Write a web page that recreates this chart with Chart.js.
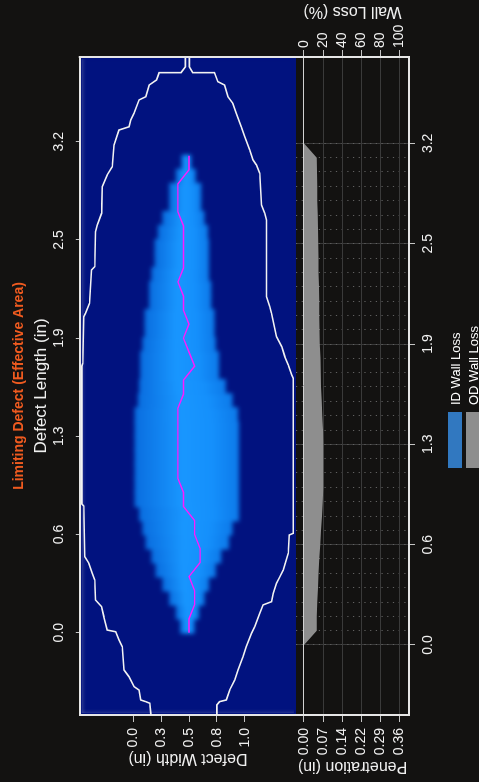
<!DOCTYPE html>
<html>
<head>
<meta charset="utf-8">
<script src="https://cdn.jsdelivr.net/npm/chart.js@4.4.0/dist/chart.umd.min.js"></script>
<style>
  html, body { margin: 0; padding: 0; background: #131211; overflow: hidden; }
  body { width: 479px; height: 782px; position: relative; }
  /* the whole figure is laid out landscape and turned a quarter turn */
  #rot { position: absolute; left: 0; top: 0; width: 782px; height: 479px;
         transform-origin: 0 0; transform: translate(0, 782px) rotate(-90deg); }
  #heat { position: absolute; left: 0; top: 0; }
  #pen { position: absolute; left: 0; top: 296px; }
  #legend { position: absolute; left: 314px; top: 448px; color: #fff;
            font: 13px "Liberation Sans", Arial, sans-serif; }
  .item { display: flex; align-items: center; height: 14px; margin-bottom: 4px; }
  .box { width: 56px; height: 14px; margin-right: 7px; }
</style>
</head>
<body>
<div id="rot">
  <canvas id="heat" width="782" height="296"></canvas>
  <canvas id="pen" width="782" height="183"></canvas>
  <div id="legend"></div>
</div>
<script>
// sample positions along the defect (in)
const sampleLen = [0.000, 0.090, 0.181, 0.271, 0.362, 0.452, 0.543, 0.633, 0.724, 0.814, 0.905, 0.995,
  1.086, 1.176, 1.267, 1.357, 1.448, 1.538, 1.629, 1.719, 1.810, 1.900, 1.990, 2.081,
  2.171, 2.262, 2.352, 2.443, 2.533, 2.624, 2.714, 2.805, 2.895, 2.986, 3.076, 3.167];
// heatmap cell centres along the defect (in)
const cellLen = [0.045, 0.136, 0.226, 0.317, 0.407, 0.498, 0.588, 0.679, 0.769, 0.860, 0.950, 1.041,
  1.131, 1.222, 1.312, 1.403, 1.493, 1.584, 1.674, 1.765, 1.855, 1.945, 2.036, 2.126,
  2.217, 2.307, 2.398, 2.488, 2.579, 2.669, 2.760, 2.850, 2.941, 3.031];

// tick values
const lenTicks = [0, 0.633, 1.267, 1.9, 2.533, 3.167];
const widthTicks = [0, 0.25, 0.5, 0.75, 1.0];
const penTicks = [0, 0.072, 0.144, 0.216, 0.288, 0.36];
const lossTicks = [0, 20, 40, 60, 80, 100];

// corroded area across the width (in), per cell
const blobLo = [0.42, 0.38, 0.32, 0.26, 0.20, 0.16, 0.11, 0.08, 0.05, 0.01, 0.01, 0.01, 0.01, 0.01, 0.01, 0.01, 0.04,
  0.05, 0.06, 0.06, 0.08, 0.10, 0.10, 0.14, 0.14, 0.16, 0.19, 0.19, 0.22, 0.26, 0.32, 0.32, 0.38, 0.43];
const blobHi = [0.55, 0.59, 0.64, 0.68, 0.74, 0.79, 0.86, 0.89, 0.95, 0.95, 0.95, 0.95, 0.95, 0.95, 0.95, 0.94, 0.89,
  0.83, 0.77, 0.77, 0.74, 0.73, 0.73, 0.70, 0.70, 0.68, 0.68, 0.68, 0.67, 0.64, 0.61, 0.61, 0.56, 0.52];

// deepest point path across the width (in)
const deepPath = [0.50, 0.50, 0.55, 0.55, 0.50, 0.60, 0.60, 0.55, 0.55, 0.45, 0.45, 0.40, 0.40, 0.40, 0.40, 0.40, 0.40,
  0.45, 0.45, 0.55, 0.50, 0.45, 0.50, 0.45, 0.45, 0.40, 0.45, 0.45, 0.45, 0.45, 0.40, 0.40, 0.40, 0.50, 0.50, null];

// effective area outline
const outlineLen = [-0.62, -0.526, -0.455, -0.445, -0.434, -0.370, -0.348, -0.284, -0.241, -0.090, -0.047, 0.006,
  0.017, 0.103, 0.168, 0.211, 0.340, 0.383, 0.448, 0.490, 0.817, 0.83, 1.72, 1.737, 2.038, 2.060, 2.124, 2.339,
  2.361, 2.586, 2.629, 2.705, 2.877, 2.952, 3.005, 3.145, 3.242, 3.263, 3.307, 3.350, 3.436, 3.457, 3.532, 3.565,
  3.612, 3.612, 3.650, 3.80, 3.80, 3.650, 3.612, 3.612, 3.554, 3.532, 3.457, 3.414, 3.350, 3.263, 3.199, 3.113,
  3.049, 3.016, 2.963, 2.758, 2.705, 2.662, 2.167, 2.103, 2.060, 1.909, 1.845, 1.780, 1.727, 1.662, 1.641, 0.641,
  0.630, 0.512, 0.404, 0.361, 0.319, 0.254, 0.200, 0.179, 0.125, 0.039, -0.004, -0.090, -0.155, -0.241, -0.305,
  -0.370, -0.434, -0.445, -0.466, -0.526, -0.62];
const outlineWid = [0.157, 0.157, 0.148, 0.112, 0.067, 0.051, 0.006, -0.039, -0.084, -0.099, -0.129, -0.159,
  -0.235, -0.265, -0.285, -0.340, -0.346, -0.370, -0.400, -0.436, -0.445, -0.462, -0.462, -0.454, -0.445, -0.430,
  -0.394, -0.376, -0.346, -0.340, -0.325, -0.285, -0.280, -0.235, -0.190, -0.174, -0.129, -0.039, -0.023, 0.006,
  0.051, 0.112, 0.142, 0.208, 0.232, 0.428, 0.467, 0.467, 0.503, 0.503, 0.533, 0.729, 0.759, 0.819, 0.849, 0.894,
  0.925, 0.970, 1.000, 1.045, 1.075, 1.106, 1.136, 1.151, 1.181, 1.196, 1.196, 1.226, 1.241, 1.286, 1.332, 1.361,
  1.391, 1.422, 1.436, 1.436, 1.400, 1.391, 1.346, 1.316, 1.286, 1.256, 1.241, 1.165, 1.136, 1.090, 1.061, 1.015,
  0.985, 0.939, 0.910, 0.865, 0.835, 0.774, 0.750, 0.750, 0.750];

// penetration profile (in)
const idDepth = [0, 0, 0, 0, 0, 0, 0, 0, 0, 0, 0, 0, 0, 0, 0, 0, 0, 0, 0, 0, 0, 0, 0, 0, 0, 0, 0, 0, 0, 0, 0, 0, 0, 0, 0, 0];
const odDepth = [0, 0.048, 0.048, 0.050, 0.053, 0.055, 0.058, 0.061, 0.064, 0.068, 0.071, 0.073, 0.073, 0.073,
  0.073, 0.072, 0.069, 0.067, 0.064, 0.063, 0.062, 0.060, 0.059, 0.058, 0.058, 0.057, 0.055, 0.055, 0.054,
  0.053, 0.052, 0.050, 0.050, 0.049, 0.048, 0];

const titleText = 'Limiting Defect (Effective Area)';
const lossTitle = 'Wall Loss (%)';

Chart.defaults.font.family = '"Liberation Sans", Arial, sans-serif';
Chart.defaults.color = '#f0f0f0';
Chart.defaults.animation = false;

const white = '#e6e6e6';
const tickCol = '#c4c4c4';
const gridCol = '#3a3a3a';

const setTicks = vals => scale => { scale.ticks = vals.map(v => ({ value: v })); };
// fixed axis size, no extra room for the end labels
const fixSize = (key, n) => s => {
  s[key] = n;
  s.paddingTop = 0; s.paddingBottom = 0; s.paddingLeft = 0; s.paddingRight = 0;
};

// each cell row is brighter in the middle of its span
const cellFill = c => {
  const y = c.chart.scales.y;
  if (!c.raw || !y) return '#0c7cec';
  const p0 = y.getPixelForValue(c.raw.y[0]);
  const p1 = y.getPixelForValue(c.raw.y[1]);
  if (!isFinite(p0) || !isFinite(p1) || p0 === p1) return '#0c7cec';
  const g = c.chart.ctx.createLinearGradient(0, p0, 0, p1);
  g.addColorStop(0, '#0a6ee0');
  g.addColorStop(0.45, '#1997ff');
  g.addColorStop(0.75, '#1590fc');
  g.addColorStop(1, '#0d7aea');
  return g;
};

// navy background of the heatmap panel
const heatBg = {
  id: 'heatBg',
  beforeDraw(chart) {
    const { ctx, chartArea: a } = chart;
    ctx.save();
    ctx.fillStyle = '#01127f';
    ctx.fillRect(a.left, a.top, a.right - a.left, a.bottom - a.top);
    ctx.restore();
  }
};

// soften the heatmap once its cells are down
const smooth = {
  id: 'smooth',
  afterDatasetDraw(chart, args) {
    if (!chart.data.datasets[args.index].smooth) return;
    const { ctx, chartArea: a } = chart;
    const w = a.right - a.left, h = a.bottom - a.top;
    const tmp = document.createElement('canvas');
    tmp.width = w; tmp.height = h;
    tmp.getContext('2d').drawImage(ctx.canvas, a.left, a.top, w, h, 0, 0, w, h);
    ctx.save();
    ctx.beginPath();
    ctx.rect(a.left + 2, a.top + 2, w - 4, h - 4);
    ctx.clip();
    ctx.filter = 'blur(2px)';
    ctx.drawImage(tmp, a.left, a.top);
    ctx.restore();
  }
};

// right edge of the frame
const heatFrame = {
  id: 'heatFrame',
  afterDraw(chart) {
    const { ctx, chartArea: a } = chart;
    ctx.save();
    ctx.strokeStyle = white;
    ctx.lineWidth = 2;
    ctx.beginPath();
    ctx.moveTo(a.right, a.top - 1);
    ctx.lineTo(a.right, a.bottom);
    ctx.stroke();
    ctx.restore();
  }
};

const heatChart = new Chart(document.getElementById('heat'), {
  type: 'bar',
  data: {
    datasets: [
      {
        type: 'line',
        data: outlineLen.map((x, i) => ({ x: x, y: outlineWid[i] })),
        borderColor: '#f2f2f2',
        borderWidth: 1.6,
        pointRadius: 0,
        tension: 0,
        clip: 0
      },
      {
        type: 'line',
        data: sampleLen.map((x, i) => ({ x: x, y: deepPath[i] })),
        borderColor: '#ff1aff',
        borderWidth: 1.4,
        pointRadius: 0,
        spanGaps: false
      },
      {
        data: cellLen.map((x, i) => ({ x: x, y: [blobLo[i], blobHi[i]] })),
        backgroundColor: cellFill,
        borderWidth: 0,
        grouped: false,
        barPercentage: 1.15,
        categoryPercentage: 1,
        smooth: true
      }
    ]
  },
  options: {
    responsive: false,
    layout: { padding: { left: 0, right: 57, top: 0, bottom: 0 }, autoPadding: false },
    plugins: {
      legend: { display: false },
      tooltip: { enabled: false },
      title: {
        display: true,
        text: titleText,
        color: '#ef5a1f',
        fullSize: false,
        font: { size: 14, weight: 'bold' },
        padding: { top: 11, bottom: 0 }
      }
    },
    scales: {
      x: {
        type: 'linear',
        position: 'top',
        min: -0.531,
        max: 3.713,
        offset: false,
        afterBuildTicks: setTicks(lenTicks),
        afterFit: fixSize('height', 52),
        ticks: { autoSkip: false, maxRotation: 0, padding: 8, font: { size: 14 }, callback: v => v.toFixed(1) },
        grid: { drawOnChartArea: false, offset: false, tickLength: 4, tickColor: tickCol },
        border: { color: white, width: 2 },
        title: { display: true, text: 'Defect Length (in)', font: { size: 17 }, padding: { top: 3, bottom: 0 } }
      },
      y: {
        type: 'linear',
        position: 'left',
        reverse: true,
        min: -0.481,
        max: 1.461,
        afterBuildTicks: setTicks(widthTicks),
        afterFit: fixSize('width', 67),
        ticks: { autoSkip: false, padding: 6, font: { size: 14 }, callback: v => v.toFixed(1) },
        grid: { drawOnChartArea: false, tickLength: 7, tickColor: tickCol },
        border: { color: white, width: 2 },
        title: { display: true, text: 'Defect Width (in)', font: { size: 16 }, padding: { top: 14, bottom: 0 } }
      }
    }
  },
  plugins: [heatBg, smooth, heatFrame]
});

// right hand axis title reads the same way as the left one
const lossTitlePlugin = {
  id: 'lossTitle',
  afterDraw(chart) {
    const { ctx, chartArea: a } = chart;
    ctx.save();
    ctx.translate(771, (a.top + a.bottom) / 2);
    ctx.rotate(-Math.PI / 2);
    ctx.font = '16px "Liberation Sans", Arial, sans-serif';
    ctx.fillStyle = '#f0f0f0';
    ctx.textAlign = 'center';
    ctx.textBaseline = 'middle';
    ctx.fillText(lossTitle, 0, 0);
    ctx.restore();
  }
};

const penChart = new Chart(document.getElementById('pen'), {
  type: 'line',
  data: {
    datasets: [
      {
        label: 'ID Wall Loss',
        data: sampleLen.map((x, i) => ({ x: x, y: idDepth[i] })),
        backgroundColor: '#3178c0',
        borderWidth: 0,
        pointRadius: 0,
        fill: 'origin'
      },
      {
        label: 'OD Wall Loss',
        data: sampleLen.map((x, i) => ({ x: x, y: odDepth[i] })),
        backgroundColor: '#8e8e8e',
        borderWidth: 0,
        pointRadius: 0,
        fill: 'origin'
      }
    ]
  },
  options: {
    responsive: false,
    layout: { padding: 0, autoPadding: false },
    plugins: {
      legend: { display: false },
      tooltip: { enabled: false }
    },
    scales: {
      x: {
        type: 'linear',
        position: 'bottom',
        min: -0.442,
        max: 3.712,
        afterBuildTicks: setTicks(lenTicks),
        afterFit: fixSize('height', 70),
        ticks: { autoSkip: false, maxRotation: 0, padding: 5, font: { size: 14 }, callback: v => v.toFixed(1) },
        grid: { color: gridCol, tickLength: 6, tickColor: tickCol },
        border: { color: white, width: 2 }
      },
      xm: {
        type: 'linear',
        position: 'bottom',
        min: -0.442,
        max: 3.712,
        afterBuildTicks: setTicks(sampleLen),
        afterFit: fixSize('height', 0),
        ticks: { display: false },
        grid: { color: '#616161', drawTicks: false },
        border: { display: false, dash: [1.2, 4.5] }
      },
      y: {
        type: 'linear',
        position: 'left',
        reverse: true,
        min: -0.0302,
        max: 0.3968,
        afterBuildTicks: setTicks(penTicks),
        afterFit: fixSize('width', 67),
        ticks: { autoSkip: false, padding: 6, font: { size: 14 }, callback: v => v.toFixed(2) },
        grid: {
          color: c => (c.tick && c.tick.value === 0 ? '#d2d2d2' : gridCol),
          tickLength: 7,
          tickColor: tickCol
        },
        border: { color: white, width: 2 },
        title: { display: true, text: 'Penetration (in)', font: { size: 16 }, padding: { top: 6, bottom: 0 } }
      },
      y2: {
        type: 'linear',
        position: 'right',
        reverse: true,
        min: -8.39,
        max: 110.18,
        afterBuildTicks: setTicks(lossTicks),
        afterFit: fixSize('width', 57),
        ticks: { autoSkip: false, padding: 2, font: { size: 14 } },
        grid: { drawOnChartArea: false, tickLength: 7, tickColor: tickCol },
        border: { color: white, width: 2 }
      }
    }
  },
  plugins: [lossTitlePlugin]
});

// legend stacked under the profile
const legendBox = document.getElementById('legend');
Chart.defaults.plugins.legend.labels.generateLabels(penChart).forEach(item => {
  const row = document.createElement('div');
  row.className = 'item';
  const box = document.createElement('span');
  box.className = 'box';
  box.style.background = item.fillStyle;
  const txt = document.createElement('span');
  txt.textContent = item.text;
  row.appendChild(box);
  row.appendChild(txt);
  legendBox.appendChild(row);
});
</script>
</body>
</html>
